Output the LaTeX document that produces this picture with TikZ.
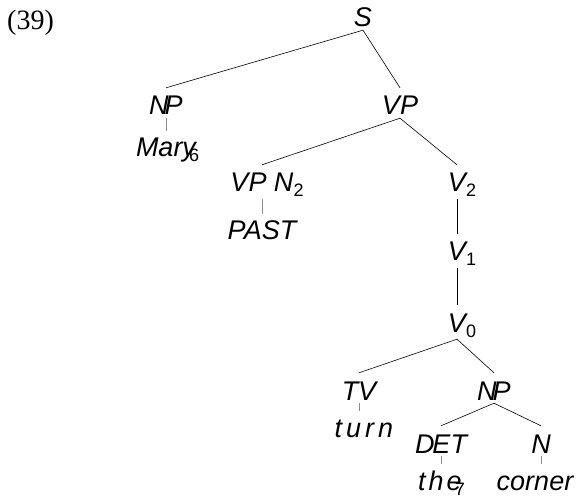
\documentclass[tikz,border=0pt]{standalone}
\usepackage{fontspec}
\setmainfont{Liberation Sans}
\newfontfamily\exnumfont{Liberation Serif}
\newcommand{\lsub}[1]{\raisebox{-5pt}{\fontsize{18}{18}\selectfont\upshape #1}}

\begin{document}
\begin{tikzpicture}[x=1pt, y=-1pt,
	cat/.style={anchor=base, inner sep=0pt, font=\fontsize{27}{30}\selectfont\itshape, text height=27pt, text depth=3pt},
	catsub/.style={cat, text depth=7pt},
	leaf/.style={cat, text height=26pt},
	edge/.style={line width=0.6pt},
	lex/.style={black!45, line width=0.8pt}]

		\useasboundingbox (0,0) rectangle (579,500);
		\node[anchor=base west, inner sep=0pt, font=\exnumfont\fontsize{28}{32}\selectfont] (exnum) at (7,30) {(39)};

		\node[cat] (s) at (363,27) {S};
		\node[cat] (np) at (166,115) {N\kern-4pt P};
		\node[leaf] (mary) at (166,157) {Mary\rlap{\kern-7pt\lsub{6}}};
		\node[cat] (vp) at (400,115) {VP};
		\node[catsub] (vpn) at (262,192) {VP N\rlap{\lsub{2}}};
		\node[leaf] (past) at (262,240) {PAST};
		\node[catsub] (vtwo) at (457,192) {V\rlap{\lsub{2}}};
		\node[catsub] (vone) at (457,261) {V\rlap{\lsub{1}}};
		\node[catsub] (vzero) at (457,332) {V\rlap{\lsub{0}}};
		\node[cat] (tv) at (359,400) {TV};
		\node[leaf] (turn) at (364,437) {t\kern4pt u\kern4pt r\kern4pt n};
		\node[cat] (nptwo) at (494,400) {N\kern-4pt P};
		\node[cat] (det) at (441,453) {D\kern-2pt ET};
		\node[cat] (n) at (541,453) {N};
		\node[leaf] (the) at (440,490) {t\kern3pt h\kern3pt e\rlap{\kern-7pt\lsub{7}}};
		\node[leaf] (corner) at (535,490) {corner};

		\foreach \a/\b in {s/np, s/vp, vp/vpn, vp/vtwo, vtwo/vone, vone/vzero, vzero/tv, vzero/nptwo, nptwo/det, nptwo/n}
		\draw[edge] (\a.south) -- (\b.north);

		\foreach \a/\b in {np/mary, vpn/past, tv/turn, det/the, n/corner}
		\draw[lex] (\a.south) -- (\a.south |- \b.north);
	\end{tikzpicture}
\end{document}
